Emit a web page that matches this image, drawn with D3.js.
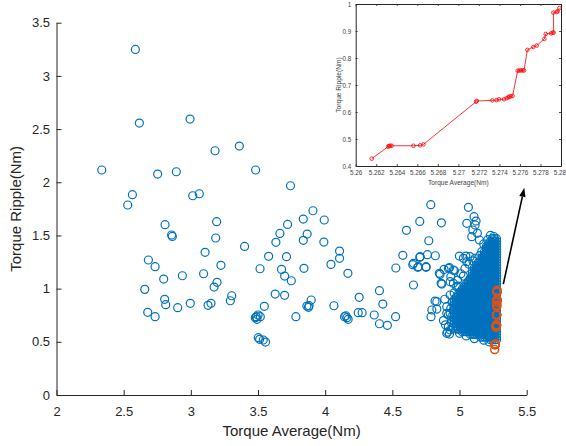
<!DOCTYPE html>
<html><head><meta charset="utf-8">
<script src="https://cdn.jsdelivr.net/npm/d3@7"></script>
<style>
body{margin:0;background:#fff}
svg{display:block;font-family:"Liberation Sans",Arial,Helvetica,sans-serif}
</style>
</head><body>
<svg id="c" width="566" height="446"></svg>
<script>
// ---------- DATA ----------
const xTicks = [2, 2.5, 3, 3.5, 4, 4.5, 5, 5.5];
const yTicks = [0, 0.5, 1, 1.5, 2, 2.5, 3, 3.5];
const insetXTicks = [5.26, 5.262, 5.264, 5.266, 5.268, 5.27, 5.272, 5.274, 5.276, 5.278, 5.28];
const insetYTicks = [0.4, 0.5, 0.6, 0.7, 0.8, 0.9, 1];

// sparse blue points [avg, ripple]
const sparsePts = [
[2.337,2.115],[2.530,1.786],[2.565,1.883],[2.587,3.249],[2.617,2.556],[2.753,2.077],[2.892,2.099],[2.994,2.594],[3.014,1.873],[3.063,1.892],[3.180,2.296],[3.361,2.340],[3.482,2.115],[3.742,1.967],[3.909,1.732],[3.837,1.654],[3.993,1.645],[3.192,1.629],
[2.808,1.601],[2.857,1.504],[2.862,1.491],[3.185,1.476],[3.106,1.341],[2.684,1.269],[2.734,1.206],[2.798,1.090],[2.937,1.121],[3.095,1.140],[3.224,1.219],[3.400,1.397],[3.195,1.059],[3.173,1.015],[2.657,0.993],[2.805,0.899],[2.813,0.849],[2.679,0.777],[2.734,0.736],[2.902,0.821],[2.996,0.862],[3.128,0.843],[3.150,0.862],[3.294,0.886],[3.304,0.933],
[3.515,1.187],[3.579,1.304],[3.633,1.435],[3.663,1.519],[3.720,1.604],[3.866,1.513],[3.837,1.454],[3.990,1.438],[3.712,1.300],[3.675,1.181],[3.698,1.118],[3.748,1.074],[3.842,1.191],[3.628,0.949],[3.698,0.937],[3.547,0.834],
[3.487,0.736],[3.500,0.752],[3.517,0.736],[3.492,0.711],[3.480,0.727],[3.502,0.539],[3.512,0.523],[3.556,0.498],[3.539,0.517],
[3.782,0.736],[3.864,0.836],[3.876,0.824],[3.880,0.840],[3.896,0.893],[4.065,0.839],[4.043,1.228],[4.107,1.353],[4.107,1.285],
[4.169,1.144],[4.786,1.789],[4.704,1.632],[4.865,1.619],[4.605,1.548],[4.771,1.450],[4.578,1.313],[4.704,1.294],[4.761,1.319],[4.820,1.309],[4.526,1.194],[4.652,1.225],[4.689,1.200],[4.751,1.200],[4.657,1.034],[4.404,0.981],[4.253,0.918],[4.429,0.855],
[4.154,0.745],[4.162,0.727],[4.171,0.711],[4.144,0.736],[4.246,0.774],[4.275,0.774],[4.365,0.752],[4.404,0.670],[4.463,0.655],[4.524,0.736],
[4.999,1.306],[4.855,1.134],[4.863,1.050],[4.831,0.877],[4.794,0.799],[4.788,0.736],[4.910,0.592],[4.925,0.573],[5.066,1.764],[5.054,1.614],[5.108,1.676],[5.123,1.635],[5.116,1.598],[5.099,1.551],[5.133,1.520],[5.091,1.488],[5.148,1.457],[5.047,1.306],[5.079,1.300],[5.116,1.285],[5.054,1.253],[5.029,1.285],[5.165,1.347],[5.202,1.379],[4.657,1.238],[4.707,1.300],[4.694,1.206],[4.751,1.206],[4.850,1.144],[4.917,1.191],[4.954,1.175],[5.029,1.118],[4.930,1.065],[4.868,1.043],[4.818,0.883],[4.831,0.808],[4.905,0.580],[4.930,0.611],[4.917,0.642],[4.954,1.050],[4.992,1.024],[4.930,0.940],[4.905,0.768],[4.930,0.768],[4.954,0.799],[4.885,1.181],[4.925,1.197],[4.962,1.168],[4.935,1.112],[4.979,1.018],[4.905,0.830],[4.935,0.815],[4.917,0.752],[4.942,0.736],[4.979,0.705],[5.255,1.490],
[4.880,0.700],[4.895,0.660],[4.940,0.680],[4.955,0.630],[4.890,0.900],[4.945,0.870],[4.960,0.960],[4.985,1.080],[5.010,1.140],[5.040,1.190],[5.070,1.230],[5.100,1.260],[5.150,1.310],[5.180,1.420],[5.210,1.460],[5.230,1.500],[5.000,0.580],[5.050,0.555],[5.110,0.530],[5.180,0.515],[5.220,0.500]
];

// dense cluster rows: [ripple, [avg values]]
const clusterRows = [
[1.470,[5.245,5.26,5.275]],
[1.445,[5.23,5.245,5.26,5.275]],
[1.420,[5.215,5.23,5.245,5.26,5.275]],
[1.395,[5.2,5.215,5.23,5.245,5.26,5.275]],
[1.370,[5.2,5.215,5.23,5.245,5.26,5.275]],
[1.345,[5.185,5.2,5.215,5.23,5.245,5.26,5.275]],
[1.320,[5.185,5.2,5.215,5.23,5.245,5.26,5.275]],
[1.295,[5.17,5.185,5.2,5.215,5.23,5.245,5.26,5.275]],
[1.270,[5.155,5.17,5.185,5.2,5.215,5.23,5.245,5.26,5.275]],
[1.245,[5.14,5.155,5.17,5.185,5.2,5.215,5.23,5.245,5.26,5.275]],
[1.220,[5.125,5.14,5.155,5.17,5.185,5.2,5.215,5.23,5.245,5.26,5.275]],
[1.195,[5.11,5.125,5.14,5.155,5.17,5.185,5.2,5.215,5.23,5.245,5.26,5.275]],
[1.170,[5.11,5.125,5.14,5.155,5.17,5.185,5.2,5.215,5.23,5.245,5.26,5.275]],
[1.145,[5.095,5.11,5.125,5.14,5.155,5.17,5.185,5.2,5.215,5.23,5.245,5.26,5.275]],
[1.120,[5.095,5.11,5.125,5.14,5.155,5.17,5.185,5.2,5.215,5.23,5.245,5.26,5.275]],
[1.095,[5.08,5.095,5.11,5.125,5.14,5.155,5.17,5.185,5.2,5.215,5.23,5.245,5.26,5.275]],
[1.070,[5.065,5.08,5.095,5.11,5.125,5.14,5.155,5.17,5.185,5.2,5.215,5.23,5.245,5.26,5.275]],
[1.045,[5.05,5.065,5.08,5.095,5.11,5.125,5.14,5.155,5.17,5.185,5.2,5.215,5.23,5.245,5.26,5.275]],
[1.020,[5.035,5.05,5.065,5.08,5.095,5.11,5.125,5.14,5.155,5.17,5.185,5.2,5.215,5.23,5.245,5.26,5.275]],
[0.995,[5.02,5.035,5.05,5.065,5.08,5.095,5.11,5.125,5.14,5.155,5.17,5.185,5.2,5.215,5.23,5.245,5.26,5.275]],
[0.970,[5.005,5.02,5.035,5.05,5.065,5.08,5.095,5.11,5.125,5.14,5.155,5.17,5.185,5.2,5.215,5.23,5.245,5.26,5.275]],
[0.945,[4.99,5.005,5.02,5.035,5.05,5.065,5.08,5.095,5.11,5.125,5.14,5.155,5.17,5.185,5.2,5.215,5.23,5.245,5.26,5.275]],
[0.920,[4.975,4.99,5.005,5.02,5.035,5.05,5.065,5.08,5.095,5.11,5.125,5.14,5.155,5.17,5.185,5.2,5.215,5.23,5.245,5.26,5.275]],
[0.895,[4.96,4.975,4.99,5.005,5.02,5.035,5.05,5.065,5.08,5.095,5.11,5.125,5.14,5.155,5.17,5.185,5.2,5.215,5.23,5.245,5.26,5.275]],
[0.870,[4.96,4.975,4.99,5.005,5.02,5.035,5.05,5.065,5.08,5.095,5.11,5.125,5.14,5.155,5.17,5.185,5.2,5.215,5.23,5.245,5.26,5.275]],
[0.845,[4.96,4.975,4.99,5.005,5.02,5.035,5.05,5.065,5.08,5.095,5.11,5.125,5.14,5.155,5.17,5.185,5.2,5.215,5.23,5.245,5.26,5.275]],
[0.820,[4.96,4.975,4.99,5.005,5.02,5.035,5.05,5.065,5.08,5.095,5.11,5.125,5.14,5.155,5.17,5.185,5.2,5.215,5.23,5.245,5.26,5.275]],
[0.795,[4.96,4.975,4.99,5.005,5.02,5.035,5.05,5.065,5.08,5.095,5.11,5.125,5.14,5.155,5.17,5.185,5.2,5.215,5.23,5.245,5.26,5.275]],
[0.770,[4.96,4.975,4.99,5.005,5.02,5.035,5.05,5.065,5.08,5.095,5.11,5.125,5.14,5.155,5.17,5.185,5.2,5.215,5.23,5.245,5.26,5.275]],
[0.745,[4.96,4.975,4.99,5.005,5.02,5.035,5.05,5.065,5.08,5.095,5.11,5.125,5.14,5.155,5.17,5.185,5.2,5.215,5.23,5.245,5.26,5.275]],
[0.720,[4.96,4.975,4.99,5.005,5.02,5.035,5.05,5.065,5.08,5.095,5.11,5.125,5.14,5.155,5.17,5.185,5.2,5.215,5.23,5.245,5.26,5.275]],
[0.695,[4.96,4.975,4.99,5.005,5.02,5.035,5.05,5.065,5.08,5.095,5.11,5.125,5.14,5.155,5.17,5.185,5.2,5.215,5.23,5.245,5.26,5.275]],
[0.670,[4.96,4.975,4.99,5.005,5.02,5.035,5.05,5.065,5.08,5.095,5.11,5.125,5.14,5.155,5.17,5.185,5.2,5.215,5.23,5.245,5.26,5.275]],
[0.645,[4.975,4.99,5.005,5.02,5.035,5.05,5.065,5.08,5.095,5.11,5.125,5.14,5.155,5.17,5.185,5.2,5.215,5.23,5.245,5.26,5.275]],
[0.620,[4.975,4.99,5.005,5.02,5.035,5.05,5.065,5.08,5.095,5.11,5.125,5.14,5.155,5.17,5.185,5.2,5.215,5.23,5.245,5.26,5.275]],
[0.595,[5.02,5.035,5.05,5.065,5.08,5.095,5.11,5.125,5.14,5.155,5.17,5.185,5.2,5.215,5.23,5.245,5.26,5.275]],
[0.570,[5.08,5.095,5.11,5.125,5.14,5.155,5.17,5.185,5.2,5.215,5.23,5.245,5.26,5.275]],
[0.545,[5.155,5.17,5.185,5.2,5.215,5.23,5.245,5.26,5.275]],
[0.520,[5.23,5.245,5.26,5.275]]
];

// selected (orange / red) designs
const selAvg = [5.26156,5.26315,5.26325,5.26334,5.2635,5.26562,5.26627,5.2666,5.27172,5.2718,5.27331,5.27373,5.27396,5.27445,5.2747,5.27487,5.27497,5.2751,5.27529,5.27578,5.27594,5.2761,5.27627,5.2764,5.27672,5.2773,5.27763,5.27838,5.27851,5.27903,5.27919,5.27929,5.27925,5.27958,5.27968,5.27984];
const selRip = [0.427,0.4716,0.474,0.475,0.475,0.475,0.4765,0.480,0.638,0.641,0.643,0.644,0.647,0.647,0.651,0.654,0.657,0.658,0.660,0.753,0.754,0.754,0.754,0.754,0.830,0.841,0.846,0.871,0.889,0.891,0.894,0.894,0.968,0.970,0.973,0.985];

// arrow annotation [avg, ripple]: tail, tip
const arrowPts = [[5.326,1.043],[5.482,1.948]];

// ---------- DRAW ----------
const svg = d3.select("#c");
const ink = "#262626";

const x = d3.scaleLinear().domain([2,5.5]).range([56.5,526.7]);
const y = d3.scaleLinear().domain([0,3.5]).range([395,22.7]);

const bluePts = sparsePts.concat(clusterRows.flatMap(r => r[1].map(v => [v, r[0]])));
const selPts = selAvg.map((v,i) => [v, selRip[i]]);

// axes
const gx = svg.append("g").attr("transform",`translate(0,${y(0)})`)
  .call(d3.axisBottom(x).tickValues(xTicks).tickSize(-5).tickSizeOuter(0).tickPadding(11.8).tickFormat(d3.format("")));
const gy = svg.append("g").attr("transform",`translate(${x(2)},0)`)
  .call(d3.axisLeft(y).tickValues(yTicks).tickSize(-5).tickSizeOuter(0).tickPadding(6.5).tickFormat(d3.format("")));
[gx,gy].forEach(g=>{
  g.select(".domain").attr("stroke",ink);
  g.selectAll(".tick line").attr("stroke",ink);
  g.selectAll(".tick text").attr("fill",ink).style("font-size","13px").style("font-family",'"Liberation Sans",Arial,sans-serif');
});

svg.append("text").attr("x",(x(2)+x(5.5))/2).attr("y",436).attr("text-anchor","middle")
  .attr("fill",ink).style("font-size","15px").text("Torque Average(Nm)");
svg.append("text").attr("transform",`translate(21,${(y(0)+y(3.5))/2}) rotate(-90)`).attr("text-anchor","middle")
  .attr("fill",ink).style("font-size","15px").text("Torque Ripple(Nm)");

// blue scatter
svg.append("g").selectAll("circle").data(bluePts).join("circle")
  .attr("cx",d=>x(d[0])).attr("cy",d=>y(d[1])).attr("r",4)
  .attr("fill","none").attr("stroke","#0072BD").attr("stroke-width",1.2);

// orange selected
svg.append("g").selectAll("circle").data(selPts).join("circle")
  .attr("cx",d=>x(d[0])).attr("cy",d=>y(d[1])).attr("r",4)
  .attr("fill","none").attr("stroke","#D95319").attr("stroke-width",1.5);

// arrow
{
  const [t0,t1] = arrowPts.map(p=>[x(p[0]),y(p[1])]);
  const dx=t1[0]-t0[0], dy=t1[1]-t0[1], L=Math.hypot(dx,dy), ux=dx/L, uy=dy/L;
  const hl=9, hw=3.2;
  const bx=t1[0]-ux*hl, by=t1[1]-uy*hl;
  svg.append("line").attr("x1",t0[0]).attr("y1",t0[1]).attr("x2",bx).attr("y2",by)
    .attr("stroke","#000").attr("stroke-width",1.6);
  svg.append("path").attr("d",`M${t1[0]},${t1[1]}L${bx-uy*hw},${by+ux*hw}L${bx+uy*hw},${by-ux*hw}Z`).attr("fill","#000");
}

// ---------- INSET ----------
const ix = d3.scaleLinear().domain([5.26,5.28]).range([355.7,561]);
const iy = d3.scaleLinear().domain([0.4,1]).range([166,4]);
const inset = svg.append("g");
inset.append("rect").attr("x",ix(5.26)).attr("y",iy(1)).attr("width",ix(5.28)-ix(5.26)).attr("height",iy(0.4)-iy(1)).attr("fill","#fff");

const fmt = d => String(+d.toFixed(3));
const ib = inset.append("g").attr("transform",`translate(0,${iy(0.4)})`)
  .call(d3.axisBottom(ix).tickValues(insetXTicks).tickSize(-2).tickSizeOuter(0).tickPadding(4.5).tickFormat(fmt));
const it = inset.append("g").attr("transform",`translate(0,${iy(1)})`)
  .call(d3.axisTop(ix).tickValues(insetXTicks).tickSize(-2).tickSizeOuter(0).tickFormat(""));
const il = inset.append("g").attr("transform",`translate(${ix(5.26)},0)`)
  .call(d3.axisLeft(iy).tickValues(insetYTicks).tickSize(-2).tickSizeOuter(0).tickPadding(4.5).tickFormat(fmt));
const ir = inset.append("g").attr("transform",`translate(${ix(5.28)},0)`)
  .call(d3.axisRight(iy).tickValues(insetYTicks).tickSize(-2).tickSizeOuter(0).tickFormat(""));
[ib,it,il,ir].forEach(g=>{
  g.select(".domain").attr("stroke",ink).attr("stroke-width",1);
  g.selectAll(".tick line").attr("stroke",ink).attr("stroke-width",0.8);
  g.selectAll(".tick text").attr("fill","#444").style("font-size","6.3px").style("font-family",'"Liberation Sans",Arial,sans-serif');
});
// keep the last x label inside the page
ib.selectAll(".tick text").filter(d=>d===5.28).attr("text-anchor","end").attr("x",4.6);

inset.append("text").attr("x",(ix(5.26)+ix(5.28))/2).attr("y",184.5).attr("text-anchor","middle")
  .attr("fill","#444").style("font-size","6.6px").text("Torque Average(Nm)");
inset.append("text").attr("transform",`translate(340.5,${(iy(0.4)+iy(1))/2}) rotate(-90)`).attr("text-anchor","middle")
  .attr("fill","#444").style("font-size","6.6px").text("Torque Ripple(Nm)");

inset.append("path").datum(selPts)
  .attr("d",d3.line().x(d=>ix(d[0])).y(d=>iy(d[1])))
  .attr("fill","none").attr("stroke","#FF0000").attr("stroke-width",0.8);
inset.append("g").selectAll("circle").data(selPts).join("circle")
  .attr("cx",d=>ix(d[0])).attr("cy",d=>iy(d[1])).attr("r",1.8)
  .attr("fill","none").attr("stroke","#FF0000").attr("stroke-width",0.8);
</script>
</body></html>
